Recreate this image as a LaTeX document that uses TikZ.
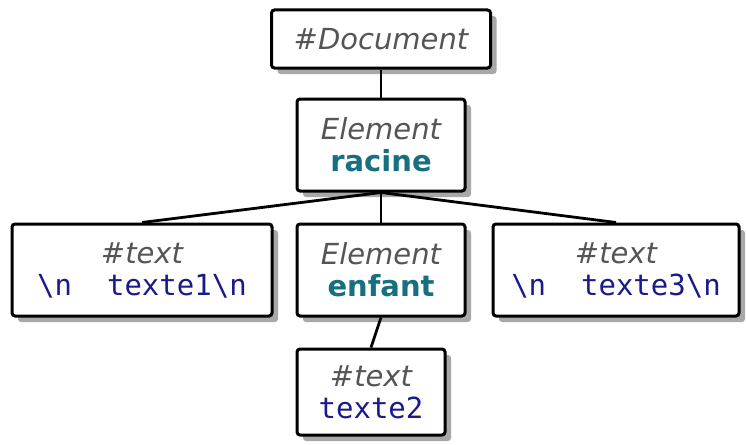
\documentclass[tikz,border=0pt]{standalone}
\usepackage{fontspec}
\setmainfont{DejaVu Sans}
\newfontfamily\monofont{DejaVu Sans Mono}
\usetikzlibrary{shadows}
\definecolor{labgray}{HTML}{555555}
\definecolor{tealname}{HTML}{16707F}
\definecolor{navytext}{HTML}{1A1A8C}
\definecolor{shadowgray}{HTML}{A8A8A8}
\newcommand{\kindlabel}[1]{{\color{labgray}\itshape #1}}
\newcommand{\elname}[1]{{\color{tealname}\bfseries #1}}
\newcommand{\txt}[1]{{\color{navytext}\monofont #1}}
\newcommand{\bs}{\textbackslash}
\tikzset{
  domnode/.style={draw=black, line width=3pt, rounded corners=3pt, fill=white,
    align=center, inner sep=0pt,
    font=\fontsize{29}{32}\selectfont,
    drop shadow={shadow xshift=6pt, shadow yshift=-6pt, fill=shadowgray, opacity=1}},
  link/.style={draw=black, line width=2.8pt}
}
\begin{document}
\begin{tikzpicture}[x=1pt,y=-1pt]
  \useasboundingbox (0,0) rectangle (746,444);
  % DOM tree nodes
  \node[domnode, minimum width=219pt, minimum height=58pt] (doc) at (381,39)
    {\kindlabel{\#Document}};
  \node[domnode, minimum width=168pt, minimum height=92pt] (racine) at (381,145)
    {\kindlabel{Element}\\\elname{racine}};
  \node[domnode, minimum width=260pt, minimum height=92pt] (t1) at (142,270)
    {\kindlabel{\#text}\\\txt{\bs n\ \ texte1\bs n}};
  \node[domnode, minimum width=168pt, minimum height=92pt] (enfant) at (381,270)
    {\kindlabel{Element}\\\elname{enfant}};
  \node[domnode, minimum width=246pt, minimum height=92pt] (t3) at (616,270)
    {\kindlabel{\#text}\\\txt{\bs n\ \ texte3\bs n}};
  \node[domnode, minimum width=148pt, minimum height=86pt] (t2) at (371,392)
    {\kindlabel{\#text}\\\txt{texte2}};
  % parent-child links
  \draw[link] (doc.south) -- (racine.north);
  \draw[link] (racine.south) -- (t1.north);
  \draw[link] (racine.south) -- (enfant.north);
  \draw[link] (racine.south) -- (t3.north);
  \draw[link] (enfant.south) -- (t2.north);
\end{tikzpicture}
\end{document}
